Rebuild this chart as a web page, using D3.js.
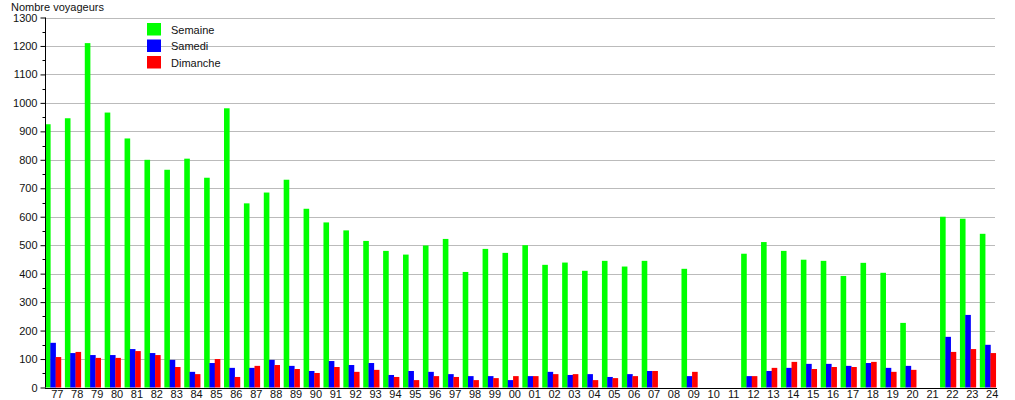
<!DOCTYPE html>
<html>
<head>
<meta charset="utf-8">
<script src="https://cdn.jsdelivr.net/npm/d3@7"></script>
<style>
  html, body { margin: 0; padding: 0; background: #fff; }
  svg { display: block; font-family: "Liberation Sans", Arial, sans-serif; }
</style>
</head>
<body>
<svg id="chart" width="1015" height="400"></svg>
<script>
const categories = ["77","78","79","80","81","82","83","84","85","86","87","88","89","90","91","92","93","94","95","96","97","98","99","00","01","02","03","04","05","06","07","08","09","10","11","12","13","14","15","16","17","18","19","20","21","22","23","24"];
const semaine  = [925,946,1210,966,875,800,765,804,737,981,647,685,730,628,580,552,515,480,467,499,522,406,487,473,500,431,439,410,445,425,445,0,417,0,0,470,511,480,449,445,392,438,403,227,0,600,593,540];
const samedi   = [157,121,114,114,135,121,97,55,86,69,69,97,76,58,93,79,86,44,58,55,47,40,40,26,40,55,44,47,37,47,58,0,40,0,0,40,58,69,83,83,76,86,69,76,0,178,255,150];
const dimanche = [107,125,104,104,128,114,72,47,100,37,76,79,65,51,72,55,62,37,26,40,37,26,33,40,40,47,47,26,33,40,58,0,55,0,0,40,69,90,65,72,72,90,55,62,0,125,135,121];
const seriesNames = ["Semaine","Samedi","Dimanche"];
const seriesColors = ["#00ff00","#0000ff","#ff0000"];
const yTicks = [0,100,200,300,400,500,600,700,800,900,1000,1100,1200,1300];
const yLabel = "Nombre voyageurs";

const svg = d3.select("#chart");
const step = 19.89;
const x0 = 45;
const x = d3.scaleBand().domain(categories)
  .range([x0, x0 + (categories.length - 0.2) * step])
  .paddingInner(0.2).paddingOuter(0);
const xs = d3.scaleBand().domain(seriesNames).range([0, x.bandwidth()]);
const y = d3.scaleLinear().domain([0, 1300]).range([387.5, 17.5]);

const plotRight = 995;

// gridlines
svg.append("g").selectAll("line").data(yTicks.filter(d => d > 0)).join("line")
  .attr("x1", x0).attr("x2", plotRight)
  .attr("y1", d => Math.round(y(d)) + 0.5).attr("y2", d => Math.round(y(d)) + 0.5)
  .attr("stroke", "#bbbbbb").attr("stroke-width", 1);

// bars
const data = categories.map((c, i) => ({c, vals: [semaine[i], samedi[i], dimanche[i]]}));
const groups = svg.append("g").selectAll("g").data(data).join("g")
  .attr("transform", d => `translate(${x(d.c)},0)`);
groups.selectAll("rect").data(d => d.vals.map((v, j) => ({v, j})).filter(e => e.v > 0)).join("rect")
  .attr("x", e => xs(seriesNames[e.j]))
  .attr("width", xs.bandwidth() + 0.3)
  .attr("y", e => y(e.v))
  .attr("height", e => y(0) - y(e.v))
  .attr("fill", e => seriesColors[e.j]);

// y axis
const yAxis = d3.axisLeft(y).tickValues(yTicks).tickSize(5).tickPadding(3).tickFormat(d3.format("d"));
const ya = svg.append("g").attr("transform", `translate(${x0 + 0.5},0)`).call(yAxis);
ya.select(".domain").attr("stroke", "#000").attr("d", `M0,${y(1300)}V${y(0)}`);
ya.selectAll("text").attr("font-size", 11).attr("fill", "#111").attr("font-family", "Liberation Sans, Arial, sans-serif");
ya.selectAll(".tick line").attr("stroke", "#000");
// minor ticks
const minor = d3.range(50, 1300, 100);
svg.append("g").selectAll("line").data(minor).join("line")
  .attr("x1", x0 - 2.5).attr("x2", x0 + 0.5)
  .attr("y1", d => Math.round(y(d)) + 0.5).attr("y2", d => Math.round(y(d)) + 0.5)
  .attr("stroke", "#000");

// x axis
const xAxis = d3.axisBottom(x).tickSize(0).tickPadding(0);
const xa = svg.append("g").attr("transform", `translate(4.4,${y(0)})`).call(xAxis);
xa.select(".domain").remove();
xa.selectAll("text").attr("font-size", 11).attr("fill", "#111")
  .attr("font-family", "Liberation Sans, Arial, sans-serif")
  .attr("y", 10.5).attr("dy", null);
svg.append("line").attr("x1", x0).attr("x2", 997)
  .attr("y1", Math.round(y(0)) + 0.5).attr("y2", Math.round(y(0)) + 0.5)
  .attr("stroke", "#000");

// y label
svg.append("text").attr("x", 11).attr("y", 11).attr("font-size", 11).attr("fill", "#111").text(yLabel);

// legend
const lg = svg.append("g").attr("transform", "translate(147,23)");
const items = lg.selectAll("g").data(seriesNames).join("g")
  .attr("transform", (d, i) => `translate(0,${i * 16.5})`);
items.append("rect").attr("width", 14).attr("height", 12.5).attr("fill", (d, i) => seriesColors[i]);
items.append("text").attr("x", 24).attr("y", 10.5).attr("font-size", 11).attr("fill", "#111").text(d => d);
</script>
</body>
</html>
